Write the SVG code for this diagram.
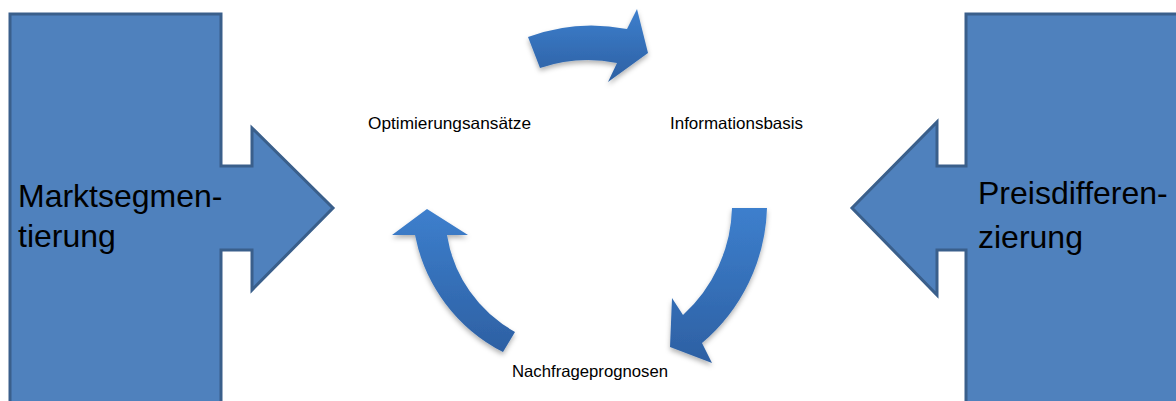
<svg xmlns="http://www.w3.org/2000/svg" width="1176" height="401" viewBox="0 0 1176 401">
<style>
.big{fill:#4f81bd;stroke:#3a5f8b;stroke-width:3;stroke-linejoin:miter}
.bt{font-family:"Liberation Sans",Arial,sans-serif;font-size:32px;fill:#000}
.st{font-family:"Liberation Sans",Arial,sans-serif;font-size:16.5px;fill:#000}
.cyc{fill:url(#g);filter:url(#sh)}
</style>
<defs>
<linearGradient id="g" x1="0" y1="0" x2="0" y2="1">
<stop offset="0" stop-color="#3d7fcd"/>
<stop offset="1" stop-color="#2d60a3"/>
</linearGradient>
<filter id="sh" x="-20%" y="-20%" width="140%" height="150%">
<feDropShadow dx="0" dy="3" stdDeviation="2.5" flood-color="#000" flood-opacity="0.3"/>
</filter>
</defs>
<rect width="1176" height="401" fill="#fff"/>
<g id="node-marktsegmentierung">
<path class="big" d="M10,14 H221 V166 H252 V128 L333,208 L252,290 V250 H221 V412 H10 Z"/>
<text class="bt" x="18" y="207">Marktsegmen-</text>
<text class="bt" x="18" y="247">tierung</text>
</g>
<g id="node-preisdifferenzierung">
<path class="big" d="M1190,14 H966 V166 H937 V122 L852,208 L937,295 V250 H966 V412 H1190 Z"/>
<text class="bt" x="978" y="204">Preisdifferen-</text>
<text class="bt" x="978" y="248">zierung</text>
</g>
<g id="node-informationsbasis">
<text class="st" x="670" y="129" textLength="133" lengthAdjust="spacingAndGlyphs">Informationsbasis</text>
</g>
<g id="node-nachfrageprognosen">
<text class="st" x="512" y="377" textLength="156" lengthAdjust="spacingAndGlyphs">Nachfrageprognosen</text>
</g>
<g id="node-optimierungsansaetze">
<text class="st" x="368" y="129" textLength="163" lengthAdjust="spacingAndGlyphs">Optimierungsansätze</text>
</g>
<g id="connectors">
<path class="cyc" d="M528,37 A184,184 0 0 1 627,29 L637,9 L648,53 L608,82 L617,63 A150,150 0 0 0 540,68 Z"/>
<path class="cyc" d="M732,208 L767,208 A184,184 0 0 1 702,343 L712,363 L670,347 L672,298 L683,315 A150,150 0 0 0 732,208 Z"/>
<path class="cyc" d="M427,209 L468,235 L447,235 A135,135 0 0 0 515,332 L503,352 A167,167 0 0 1 415,235 L392,235 Z"/>
</g>
</svg>
